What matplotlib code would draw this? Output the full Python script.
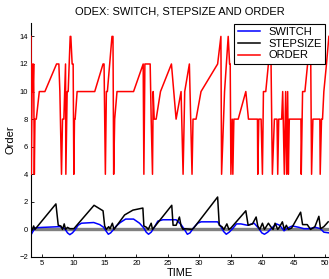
import matplotlib
matplotlib.use("Agg")
import matplotlib.pyplot as plt

plt.rcParams['font.family'] = ['Liberation Sans', 'DejaVu Sans']

# ORDER series
order_t = [3.26, 3.31, 3.47, 3.58, 3.68, 3.79, 3.89, 4.10, 4.58, 5.47, 7.32, 7.69, 7.85, 8.11,
           8.27, 8.48, 8.75, 8.80, 9.01, 9.17, 9.49, 9.59, 9.80, 9.96, 10.07, 10.17, 10.28,
           10.59, 13.39, 14.71, 14.87, 15.08, 15.24, 15.40, 16.13, 16.29, 16.40, 16.56, 16.93,
           19.56, 21.09, 21.20, 21.36, 21.62, 22.20, 22.36, 22.57, 22.68, 22.84, 23.15, 23.84,
           25.58, 26.32, 27.11, 27.43, 27.69, 28.43, 28.85, 29.01, 29.49, 30.28, 32.92, 33.44,
           33.55, 34.02, 34.60, 34.82, 34.92, 35.03, 35.24, 35.34, 35.50, 36.19, 37.40, 37.82,
           39.25, 39.30, 39.46, 39.83, 40.04, 40.20, 40.57, 40.99, 41.20, 41.41, 41.62, 41.94,
           42.36, 42.47, 42.63, 43.10, 43.26, 43.52, 43.73, 43.89, 44.05, 44.16, 44.31, 46.16,
           46.21, 46.42, 46.79, 47.22, 47.43, 47.69, 47.85, 48.06, 49.17, 49.22, 49.43, 49.59,
           49.80, 50.22, 50.60]
order_v = [14, 4, 12, 10, 12, 4, 8, 8, 10, 10, 12, 12, 10, 4,
           8, 8, 12, 4, 10, 10, 14, 14, 12, 12, 4, 8, 8,
           10, 10, 12, 12, 4, 10, 10, 14, 14, 4, 8, 10,
           10, 12, 4, 12, 12, 12, 8, 4, 10, 8, 8, 10,
           12, 8, 10, 4, 10, 12, 4, 8, 8, 10, 12, 14,
           4, 10, 14, 12, 12, 4, 8, 4, 8, 8, 10, 8,
           8, 4, 8, 8, 4, 10, 10, 12, 14, 12, 4, 8,
           8, 4, 8, 8, 10, 4, 10, 4, 10, 4, 8, 8,
           4, 10, 10, 12, 14, 14, 4, 8, 8, 4, 8, 8,
           10, 12, 14]

# STEPSIZE series
step_t = [3.26, 3.47, 3.68, 3.89, 7.22, 7.59, 8.01, 8.27, 8.54, 8.75, 9.06, 9.43, 10.07,
          13.28, 14.71, 14.97, 15.24, 15.61, 15.82, 16.19, 16.45, 18.14, 19.46, 21.04, 21.20,
          21.62, 21.89, 22.36, 22.57, 25.63, 25.84, 26.32, 26.85, 27.11, 27.43, 27.69, 28.85,
          29.12, 32.92, 33.18, 33.60, 33.92, 34.39, 34.71, 35.03, 37.40, 37.77, 38.46, 39.04,
          39.30, 39.62, 40.04, 40.36, 40.99, 41.36, 41.73, 42.05, 42.47, 42.79, 43.21, 43.52,
          43.84, 44.16, 44.68, 46.11, 46.42, 47.16, 47.69, 48.38, 49.01, 49.27, 49.80, 50.49]
step_v = [0.2, -0.05, 0.25, 0.0, 1.85, 0.3, 0.25, 0.0, 0.4, 0.0, 0.15, 0.05, 0.05,
          1.75, 1.35, 0.25, 0.0, 0.2, 0.05, 0.45, 0.0, 1.05, 1.4, 1.55, 0.25,
          0.15, 0.0, 0.45, 0.0, 1.75, 0.3, 0.3, 0.9, 0.25, 0.0, 0.05, 0.0,
          0.1, 2.35, 0.3, 0.2, 0.0, 0.4, 0.0, 0.1, 1.35, 0.3, 0.4, 0.9,
          0.25, 0.0, 0.45, 0.0, 0.45, 0.2, 0.0, 0.45, 0.0, 0.2, 0.55, 0.0,
          0.3, 0.0, 0.1, 1.25, 0.35, 0.35, 0.0, 0.2, 0.95, 0.05, 0.2, 0.55]

# SWITCH series
switch_t = [3.26, 3.63, 3.94, 5.21, 7.85, 8.64, 9.06, 9.43, 9.85, 10.22, 10.75, 11.28, 13.23,
            14.18, 14.81, 15.24, 15.55, 15.92, 16.29, 16.82, 17.45, 18.30, 19.56, 20.51, 21.20,
            21.57, 21.94, 22.36, 22.79, 23.42, 24.21, 26.32, 27.11, 27.64, 28.11, 28.54, 29.06,
            29.75, 30.28, 32.92, 33.44, 33.87, 34.29, 34.76, 35.29, 35.92, 36.61, 37.66, 38.72,
            39.41, 39.94, 40.36, 40.88, 41.52, 42.26, 42.79, 43.47, 44.05, 44.79, 45.85, 46.63,
            47.43, 48.48, 49.27, 49.80, 50.59]
switch_v = [-0.4, -0.1, 0.12, 0.15, 0.2, 0.05, -0.25, -0.38, -0.25, -0.05, 0.3, 0.45, 0.5,
            0.35, 0.15, -0.15, -0.35, -0.25, -0.05, 0.25, 0.5, 0.75, 0.75, 0.45, 0.1,
            -0.2, -0.35, -0.2, 0.1, 0.6, 0.7, 0.7, 0.35, 0.0, -0.35, -0.25, 0.1,
            0.45, 0.55, 0.55, 0.2, -0.15, -0.35, -0.2, 0.05, 0.4, 0.4, 0.3, 0.45,
            0.1, -0.25, -0.35, -0.2, 0.1, 0.4, 0.3, -0.1, 0.1, 0.25, 0.15, 0.05,
            0.05, 0.15, 0.05, -0.2, -0.25]

xlim = (3.26, 50.63)
ylim = (-2, 15)
xticks = [5, 10, 15, 20, 25, 30, 35, 40, 45, 50]
yticks = [-2, 0, 2, 4, 6, 8, 10, 12, 14]

fig = plt.figure(figsize=(3.29, 2.79), dpi=100)
ax = fig.add_axes([0.0942, 0.0789, 0.906, 0.840])

ax.axhline(0, color='#808080', lw=2.4, zorder=1)
l1, = ax.plot(switch_t, switch_v, color='#0000ff', lw=1.1, zorder=2, label='SWITCH')
l2, = ax.plot(step_t, step_v, color='black', lw=1.1, zorder=3, label='STEPSIZE')
l3, = ax.plot(order_t, order_v, color='#ff0000', lw=1.1, zorder=4, label='ORDER')

ax.set_xlim(*xlim)
ax.set_ylim(*ylim)
ax.set_xticks(xticks)
ax.set_yticks(yticks)
ax.set_yticklabels(['\u22122' if t == -2 else str(t) for t in yticks])
ax.tick_params(direction='in', labelsize=5.5, length=2.5, width=0.6, pad=2)
for s in ['top', 'right']:
    ax.spines[s].set_visible(False)
for s in ['left', 'bottom']:
    ax.spines[s].set_linewidth(0.8)

ax.set_title('ODEX: SWITCH, STEPSIZE AND ORDER', fontsize=8, pad=6)
ax.set_xlabel('TIME', fontsize=8, labelpad=1)
ax.set_ylabel('Order', fontsize=8, labelpad=3)

leg = ax.legend(handles=[l1, l2, l3], loc='upper right', bbox_to_anchor=(0.988, 0.995),
                fontsize=8, fancybox=False, edgecolor='black', framealpha=1,
                borderaxespad=0, handlelength=2.0, labelspacing=0.15, borderpad=0.3,
                handletextpad=0.8)
leg.get_frame().set_linewidth(0.8)

fig.savefig('out.png', dpi=100)
